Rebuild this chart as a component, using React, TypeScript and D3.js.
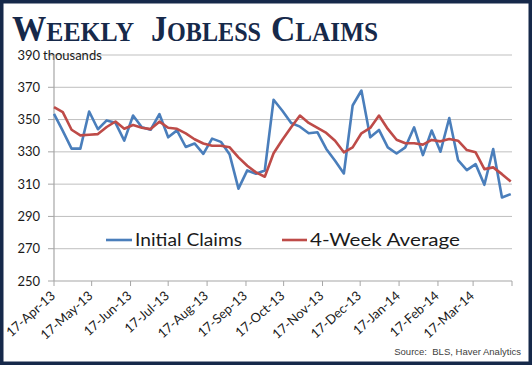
import React from 'react';
import * as d3 from 'd3';

// weekly readings, thousands, starting 17-Apr-13
const startDate = new Date(Date.UTC(2013, 3, 17));
const initialClaims = [
  353.5, 343, 332, 332, 355, 344, 349.5, 348, 337, 352.5, 345.3, 343.7, 353.4,
  339, 343.3, 333, 335.2, 328.8, 338.2, 336.2, 328.3, 307.2, 318.5, 316.4, 318.5,
  362.3, 355.5, 347.9, 345.6, 341.5, 342.1, 331.8, 324.5, 316.6, 358.7, 368, 339,
  343.6, 332.8, 329, 332.8, 345.2, 328, 343.2, 330.1, 351, 324.9, 318.7, 322.4,
  309.6, 331.8, 301.7, 303.8,
];
const fourWeekAvg = [
  357.7, 354.6, 343.7, 340.2, 340.6, 341, 345.4, 348.8, 344.3, 346.6, 344.9, 344.1,
  348.7, 344.9, 344.3, 341.4, 337.8, 335.2, 333.8, 333.8, 332.8, 326.6, 321.4, 317.3,
  314.6, 329.1, 337.5, 345.2, 352.5, 347.9, 344.8, 341.7, 336.9, 329.7, 332.8, 341.5,
  344.8, 352.5, 344.2, 337.5, 335.3, 335.3, 334.5, 337.4, 336.5, 338, 336.9, 331.1,
  329.7, 319.3, 320.4, 316.2, 311.6,
];
const monthLabels = [
  '17-Apr-13', '17-May-13', '17-Jun-13', '17-Jul-13', '17-Aug-13', '17-Sep-13',
  '17-Oct-13', '17-Nov-13', '17-Dec-13', '17-Jan-14', '17-Feb-14', '17-Mar-14', '',
];
const yTicks = [250, 270, 290, 310, 330, 350, 370, 390];

const W = 532;
const H = 365;
const font = 'Lato, "Open Sans", sans-serif';

// small-caps title, one word at a time: [big letter, rest, x, width]
const titleWords: [string, string, number, number][] = [
  ['W', 'EEKLY', 12, 122],
  ['J', 'OBLESS', 151, 110],
  ['C', 'LAIMS', 271, 107],
];

export default function App() {
  const x = d3.scaleUtc()
    .domain([startDate, d3.utcMonth.offset(startDate, 12)])
    .range([54, 512]);
  const y = d3.scaleLinear().domain([250, 390]).range([281, 55]);

  const dates = initialClaims.map((_, i) => d3.utcWeek.offset(startDate, i));
  const line = d3.line<number>()
    .x((_, i) => x(dates[i]))
    .y(d => y(d));

  const navy = '#16294a';

  return (
    <svg width={W} height={H} style={{ position: 'fixed', left: 0, top: 0, background: '#fff' }}>
      <rect x={1.5} y={1.5} width={W - 3} height={H - 3} fill="#fff" stroke={navy} strokeWidth={4} />

      {titleWords.map(([big, rest, tx, tw]) => (
        <text key={big} x={tx} y={41} fill={navy} fontFamily='"Liberation Serif", serif' fontWeight="bold"
          textLength={tw} lengthAdjust="spacingAndGlyphs">
          <tspan fontSize={36}>{big}</tspan><tspan fontSize={27}>{rest}</tspan>
        </text>
      ))}

      {yTicks.map(t => (
        <g key={t}>
          {t > 250 && <line x1={54} x2={512} y1={y(t)} y2={y(t)} stroke="#bfbfbf" strokeWidth={1} />}
          <line x1={48} x2={54} y1={y(t)} y2={y(t)} stroke="#a6a6a6" strokeWidth={1} />
          <text x={40} y={y(t)} dy="0.35em" textAnchor="end" fontFamily={font} fontSize={13} fill="#1a1a1a">{t}</text>
        </g>
      ))}
      <text x={43} y={y(390)} dy="0.35em" fontFamily={font} fontSize={13} fill="#1a1a1a">thousands</text>

      <line x1={54} x2={54} y1={55} y2={281} stroke="#a6a6a6" strokeWidth={1.2} />
      <line x1={54} x2={512} y1={281} y2={281} stroke="#a6a6a6" strokeWidth={1.2} />

      {monthLabels.map((lab, i) => {
        const tx = x(d3.utcMonth.offset(startDate, i));
        return (
          <g key={i}>
            <line x1={tx} x2={tx} y1={281} y2={286} stroke="#a6a6a6" strokeWidth={1} />
            {lab && (
              <text transform={`translate(${tx + 2},${297}) rotate(-42)`} textAnchor="end"
                fontFamily={font} fontSize={13} fill="#1a1a1a">{lab}</text>
            )}
          </g>
        );
      })}

      <path d={line(initialClaims) || ''} fill="none" stroke="#4a7ebb" strokeWidth={2.6} strokeLinejoin="round" />
      <path d={line(fourWeekAvg) || ''} fill="none" stroke="#be4b48" strokeWidth={2.6} strokeLinejoin="round" />

      <line x1={106} x2={132} y1={240} y2={240} stroke="#4a7ebb" strokeWidth={2.6} />
      <text x={135} y={240} dy="0.35em" fontFamily={font} fontSize={18} fill="#1a1a1a"
        textLength={107} lengthAdjust="spacingAndGlyphs">Initial Claims</text>
      <line x1={282} x2={307} y1={240} y2={240} stroke="#be4b48" strokeWidth={2.6} />
      <text x={310} y={240} dy="0.35em" fontFamily={font} fontSize={18} fill="#1a1a1a"
        textLength={150} lengthAdjust="spacingAndGlyphs">4-Week Average</text>

      <text x={521} y={355} textAnchor="end" fontFamily='"Liberation Sans", sans-serif' fontSize={9.5}
        fill="#404040">Source:{'\u00a0\u00a0'}BLS, Haver Analytics</text>
    </svg>
  );
}
